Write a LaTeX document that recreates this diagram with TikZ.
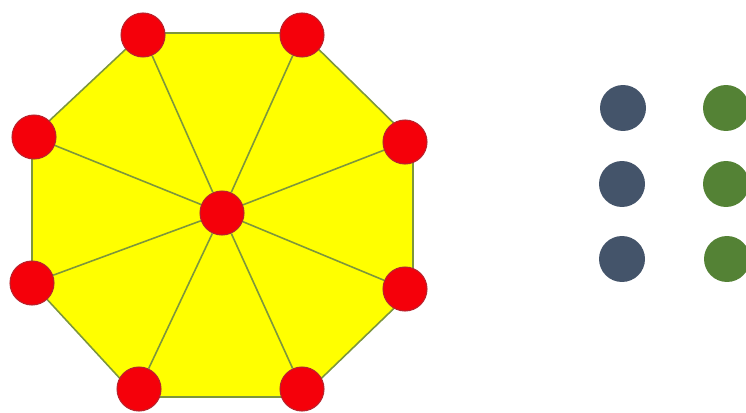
\documentclass[tikz,border=0pt]{standalone}
\usepackage{xcolor}
\usepackage{tikz}
\definecolor{octfill}{RGB}{255, 255, 0}
\definecolor{octline}{RGB}{125, 150, 60}
\definecolor{vred}{RGB}{245, 0, 10}
\definecolor{vrim}{RGB}{185, 35, 45}
\definecolor{dotblue}{RGB}{68, 84, 106}
\definecolor{dotgreen}{RGB}{84, 130, 53}

\tikzset{
	vertex/.style={circle, fill=vred, draw=vrim, line width=0.6pt, minimum size=0.88cm, inner sep=0pt},
	bluedot/.style={circle, fill=dotblue, minimum size=0.92cm, inner sep=0pt},
	greendot/.style={circle, fill=dotgreen, minimum size=0.92cm, inner sep=0pt},
	spoke/.style={octline, line width=0.9pt}
}

\begin{document}
\begin{tikzpicture}[x=0.02cm, y=-0.02cm]
			\useasboundingbox (0,0) rectangle (746,412);

			% Octagon outline
			\coordinate (p1) at (143,33);
			\coordinate (p2) at (302,33);
			\coordinate (p3) at (413,142);
			\coordinate (p4) at (413,290);
			\coordinate (p5) at (302,397);
			\coordinate (p6) at (137,397);
			\coordinate (p7) at (32,283);
			\coordinate (p8) at (32,137);
			\filldraw[fill=octfill, draw=octline, line width=0.9pt]
				(p1) -- (p2) -- (p3) -- (p4) -- (p5) -- (p6) -- (p7) -- (p8) -- cycle;

			% Red vertices and hub
			\node[vertex] (hub) at (222,213) {};
			\node[vertex] (v1) at (143,35) {};
			\node[vertex] (v2) at (302,35) {};
			\node[vertex] (v3) at (405,142) {};
			\node[vertex] (v4) at (405,289) {};
			\node[vertex] (v5) at (302,389) {};
			\node[vertex] (v6) at (139,389) {};
			\node[vertex] (v7) at (32,283) {};
			\node[vertex] (v8) at (34,137) {};

			% Spokes
			\draw[spoke] (hub) -- (v1);
			\draw[spoke] (hub) -- (v2);
			\draw[spoke] (hub) -- (v3);
			\draw[spoke] (hub) -- (v4);
			\draw[spoke] (hub) -- (v5);
			\draw[spoke] (hub) -- (v6);
			\draw[spoke] (hub) -- (v7);
			\draw[spoke] (hub) -- (v8);

			% Dots on the right
			\node[bluedot] (b1) at (623,108) {};
			\node[bluedot] (b2) at (622,184) {};
			\node[bluedot] (b3) at (622,259) {};
			\node[greendot] (g1) at (726,108) {};
			\node[greendot] (g2) at (726,184) {};
			\node[greendot] (g3) at (727,259) {};

\end{tikzpicture}
\end{document}
